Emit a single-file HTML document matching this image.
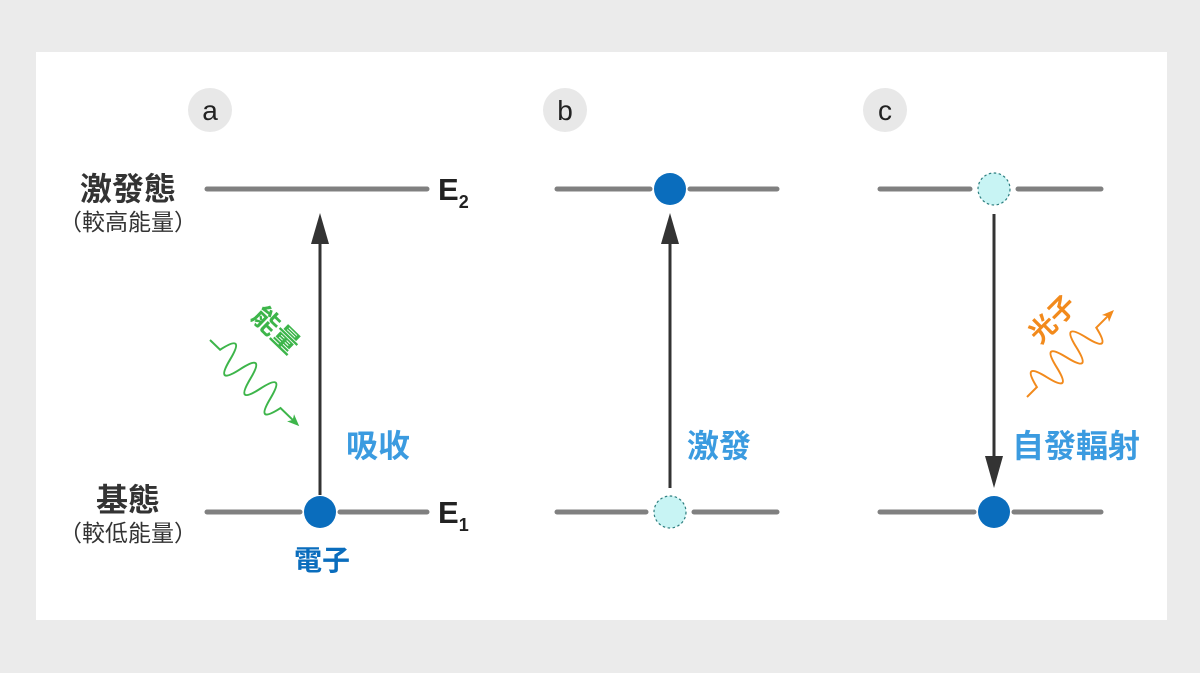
<!DOCTYPE html>
<html><head><meta charset="utf-8"><style>
body{margin:0;background:#ebebeb;}
svg{display:block;font-family:"Liberation Sans","Noto Sans CJK TC",sans-serif;}
</style></head><body>
<svg width="1200" height="673" viewBox="0 0 1200 673">
<rect x="0" y="0" width="1200" height="673" fill="#ebebeb"/>
<rect x="36" y="52" width="1131" height="568" fill="#ffffff"/>
<g fill="#e8e8e8"><circle cx="210" cy="110" r="22"/><circle cx="565" cy="110" r="22"/><circle cx="885" cy="110" r="22"/></g>
<g font-size="28" fill="#222" text-anchor="middle"><text x="210" y="120">a</text><text x="565" y="120">b</text><text x="885" y="120">c</text></g>
<g stroke="#808080" stroke-width="5" stroke-linecap="round">
<line x1="207" y1="189" x2="427" y2="189"/><line x1="207" y1="512" x2="300" y2="512"/><line x1="340" y1="512" x2="427" y2="512"/>
<line x1="557" y1="189" x2="650" y2="189"/><line x1="690" y1="189" x2="777" y2="189"/><line x1="557" y1="512" x2="646" y2="512"/><line x1="694" y1="512" x2="777" y2="512"/>
<line x1="880" y1="189" x2="970" y2="189"/><line x1="1018" y1="189" x2="1101" y2="189"/><line x1="880" y1="512" x2="974" y2="512"/><line x1="1014" y1="512" x2="1101" y2="512"/>
</g>
<g stroke="#333" stroke-width="3"><line x1="320" y1="495" x2="320" y2="240"/><line x1="670" y1="488" x2="670" y2="240"/><line x1="994" y1="214" x2="994" y2="460"/></g>
<g fill="#333"><polygon points="320,213 311,244 329,244"/><polygon points="670,213 661,244 679,244"/><polygon points="994,488 985,456 1003,456"/></g>
<circle cx="320" cy="512" r="16" fill="#0a6dbd"/>
<circle cx="670" cy="189" r="16" fill="#0a6dbd"/>
<circle cx="994" cy="512" r="16" fill="#0a6dbd"/>
<circle cx="670" cy="512" r="16" fill="#c8f4f4" stroke="#2f7f80" stroke-width="1.2" stroke-dasharray="2.5,2.5"/>
<circle cx="994" cy="189" r="16" fill="#c8f4f4" stroke="#2f7f80" stroke-width="1.2" stroke-dasharray="2.5,2.5"/>
<g transform="translate(210,340) rotate(44)">
<path d="M0,0 L14,0 q7,-30 14,0 q7,30 14,0 q7,-30 14,0 q7,30 14,0 q7,-30 14,0 q7,30 14,0 L116,0" fill="none" stroke="#3db54a" stroke-width="2"/>
<polygon points="124,0 112,-5 115,0 112,5" fill="#3db54a"/>
</g>
<text x="0" y="0" transform="translate(250,318) rotate(44)" font-size="27" font-weight="bold" fill="#3db54a">能量</text>
<g transform="translate(1027,397) rotate(-45)">
<path d="M0,0 L14,0 q7,-30 14,0 q7,30 14,0 q7,-30 14,0 q7,30 14,0 q7,-30 14,0 q7,30 14,0 L116,0" fill="none" stroke="#f28a1c" stroke-width="2"/>
<polygon points="123,0 111,-5 114,0 111,5" fill="#f28a1c"/>
</g>
<text x="0" y="0" transform="translate(1040,345) rotate(-45)" font-size="27" font-weight="bold" fill="#f28a1c">光子</text>
<g fill="#333" text-anchor="middle">
<text x="128" y="200" font-size="32" font-weight="bold">激發態</text>
<text x="128" y="230" font-size="23">（較高能量）</text>
<text x="128" y="511" font-size="32" font-weight="bold">基態</text>
<text x="128" y="541" font-size="23">（較低能量）</text>
</g>
<g fill="#222" font-weight="bold">
<text x="438" y="200" font-size="31">E<tspan font-size="18" dy="8">2</tspan></text>
<text x="438" y="523" font-size="31">E<tspan font-size="18" dy="8">1</tspan></text>
</g>
<text x="322" y="570" font-size="28" font-weight="bold" fill="#0a6dbd" text-anchor="middle">電子</text>
<g font-size="32" font-weight="bold" fill="#3b9be0">
<text x="346" y="457">吸收</text>
<text x="687" y="457">激發</text>
<text x="1012" y="457">自發輻射</text>
</g>
</svg>
</body></html>
